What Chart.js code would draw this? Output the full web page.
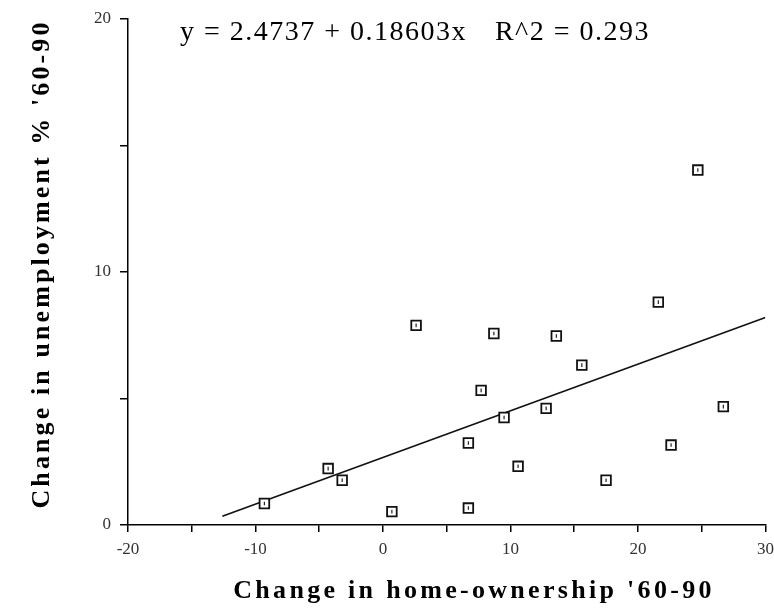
<!DOCTYPE html>
<html>
<head>
<meta charset="utf-8">
<script src="https://cdn.jsdelivr.net/npm/chart.js@4"></script>
<style>
  html, body { margin: 0; padding: 0; background: #fff; }
  #wrap { width: 774px; height: 613px; }
</style>
</head>
<body>
<div id="wrap"><canvas id="scatterChart" width="774" height="613"></canvas></div>
<script>
// data
const xValues = [-9.3, -4.3, -3.2, 0.7, 2.6, 6.7, 6.7, 7.7, 8.7, 9.5, 10.6, 12.8, 13.6, 15.6, 17.5, 21.6, 22.6, 24.7, 26.7];
const yValues = [0.85, 2.23, 1.77, 0.53, 7.89, 3.24, 0.67, 5.32, 7.57, 4.25, 2.32, 4.61, 7.47, 6.32, 1.77, 8.81, 3.16, 14.03, 4.68];
const fitX = [-12.6, 30];
const fitY = [0.35, 8.2];
const xTicks = [-20, -10, 0, 10, 20, 30];
const yTicks = [0, 10, 20];

const equationText = 'y = 2.4737 + 0.18603x';
const r2Text = 'R^2 = 0.293';
const xTitle = "Change in home-ownership '60-90";
const yTitle = "Change in unemployment % '60-90";

const points = xValues.map((x, i) => ({ x: x, y: yValues[i] }));
const fitLine = fitX.map((x, i) => ({ x: x, y: fitY[i] }));

// equation + axis titles, drawn with letter spacing
const textPlugin = {
  id: 'textPlugin',
  afterDraw(chart) {
    const c = chart.ctx;
    c.save();
    c.fillStyle = '#000';
    c.textBaseline = 'alphabetic';
    c.font = '28px "Liberation Serif"';
    c.letterSpacing = '1.5px';
    c.textAlign = 'left';
    c.fillText(equationText, 180, 40);
    c.textAlign = 'right';
    c.fillText(r2Text, 650, 40);

    c.font = 'bold 26px "Liberation Serif"';
    c.textAlign = 'center';
    c.textBaseline = 'middle';
    c.letterSpacing = '3.3px';
    c.fillText(xTitle, 474, 591);

    c.letterSpacing = '3.1px';
    c.translate(42, 264);
    c.rotate(-Math.PI / 2);
    c.fillText(yTitle, 0, 0);
    c.restore();
  }
};

const ctx = document.getElementById('scatterChart').getContext('2d');

new Chart(ctx, {
  type: 'scatter',
  data: {
    datasets: [
      {
        label: 'fit',
        type: 'line',
        data: fitLine,
        borderColor: '#111',
        borderWidth: 1.6,
        pointRadius: 0,
        fill: false,
        order: 3
      },
      {
        label: 'points',
        data: points,
        pointStyle: 'rect',
        pointRadius: 6.8,
        backgroundColor: '#fff',
        borderColor: '#111',
        borderWidth: 1.8,
        order: 2
      },
      {
        label: 'inner',
        data: points,
        pointStyle: 'line',
        rotation: 90,
        pointRadius: 1.8,
        borderColor: '#222',
        borderWidth: 1.2,
        order: 1
      }
    ]
  },
  options: {
    responsive: false,
    animation: false,
    layout: { padding: { top: 19, right: 8, left: 0, bottom: 0 } },
    plugins: {
      legend: { display: false },
      tooltip: { enabled: false }
    },
    scales: {
      x: {
        type: 'linear',
        min: -20,
        max: 30,
        afterFit: (s) => { s.height = 88; s.paddingRight = 0; s.paddingLeft = 0; },
        border: { display: true, color: '#000', width: 1.5 },
        grid: { drawOnChartArea: false, drawTicks: true, tickLength: 7, color: '#000', lineWidth: 1.5 },
        ticks: {
          stepSize: 5,
          padding: 7,
          maxRotation: 0,
          color: '#333',
          font: { family: 'Liberation Serif', size: 17 },
          callback: (v) => xTicks.includes(v) ? String(v) : ''
        }
      },
      y: {
        type: 'linear',
        min: 0,
        max: 20,
        afterFit: (s) => { s.width = 128; s.paddingTop = 0; s.paddingBottom = 0; },
        border: { display: true, color: '#000', width: 1.5 },
        grid: { drawOnChartArea: false, drawTicks: true, tickLength: 8, color: '#000', lineWidth: 1.5 },
        ticks: {
          stepSize: 5,
          padding: 9,
          color: '#333',
          font: { family: 'Liberation Serif', size: 17 },
          callback: (v) => yTicks.includes(v) ? String(v) : ''
        }
      }
    }
  },
  plugins: [textPlugin]
});
</script>
</body>
</html>
